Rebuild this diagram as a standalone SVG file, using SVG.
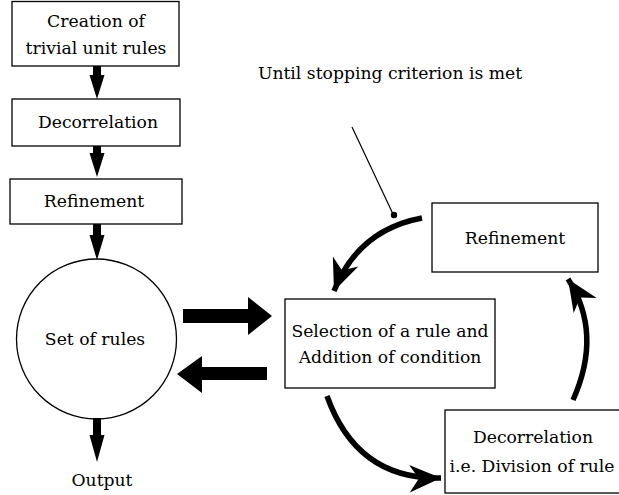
<svg xmlns="http://www.w3.org/2000/svg" width="619" height="495" viewBox="0 0 619 495">
<style>
.box{fill:#fff;stroke:#000;stroke-width:1.3}
.t{font-family:"DejaVu Serif","Liberation Serif",serif;font-size:17.2px;fill:#000;text-anchor:middle}
.fat{fill:#000;stroke:none}
.arc{fill:none;stroke:#000;stroke-width:5.5}
</style>
<defs>
<marker id="ah" markerUnits="userSpaceOnUse" markerWidth="40" markerHeight="40" viewBox="-34 -17 38 34" refX="0" refY="0" orient="auto">
<path d="M0,0 L-30,-13 L-21,0 L-30,13 Z" fill="#000"/>
</marker>
</defs>
<rect width="619" height="495" fill="#fff"/>
<g id="n-creation">
<rect class="box" x="12" y="1.5" width="167" height="64.5"/>
<text class="t" x="96" y="27">Creation of</text>
<text class="t" x="96" y="54">trivial unit rules</text>
</g>
<g id="n-decorr1">
<rect class="box" x="12" y="99" width="168" height="47"/>
<text class="t" x="98" y="128">Decorrelation</text>
</g>
<g id="n-refine1">
<rect class="box" x="10" y="179" width="172" height="45"/>
<text class="t" x="94" y="207">Refinement</text>
</g>
<g id="n-set">
<circle cx="96.5" cy="339" r="80" fill="#fff" stroke="#000" stroke-width="1.3"/>
<text class="t" x="95" y="345">Set of rules</text>
</g>
<g id="n-output">
<text class="t" x="102" y="486">Output</text>
</g>
<g id="n-selection">
<rect class="box" x="285" y="299" width="210" height="89"/>
<text class="t" x="390" y="337">Selection of a rule and</text>
<text class="t" x="390" y="363">Addition of condition</text>
</g>
<g id="n-refine2">
<rect class="box" x="432" y="203" width="166" height="69"/>
<text class="t" x="515" y="244">Refinement</text>
</g>
<g id="n-decorr2">
<rect class="box" x="445" y="410" width="180" height="83"/>
<text class="t" x="533" y="443">Decorrelation</text>
<text class="t" x="532" y="472">i.e. Division of rule</text>
</g>
<g id="n-note">
<text class="t" x="390" y="79">Until stopping criterion is met</text>
</g>
<g id="connectors">
<polygon class="fat" points="93,66 101,66 101,75 104.5,75 97,99 89.5,75 93,75"/>
<polygon class="fat" points="93,146 101,146 101,153 104.5,153 97,177 89.5,153 93,153"/>
<polygon class="fat" points="93,224 101,224 101,235 104.5,235 97,260 89.5,235 93,235"/>
<polygon class="fat" points="93,418 101,418 101,435 104.5,435 97,462 89.5,435 93,435"/>
<polygon class="fat" points="183,309 248,309 248,297 272,316 248,335 248,323 183,323"/>
<polygon class="fat" points="267,367 202,367 202,356 177,374 202,393 202,380 267,380"/>
<path class="arc" d="M422,218 Q358,230 334,291" marker-end="url(#ah)"/>
<path class="arc" d="M327,396 Q357,480 441,478" marker-end="url(#ah)"/>
<path class="arc" d="M573,400 Q603,333 568,279" marker-end="url(#ah)"/>
<line x1="352" y1="127" x2="393" y2="214" stroke="#000" stroke-width="1.2"/>
<circle cx="394" cy="215" r="3.2" fill="#000"/>
</g>
</svg>
